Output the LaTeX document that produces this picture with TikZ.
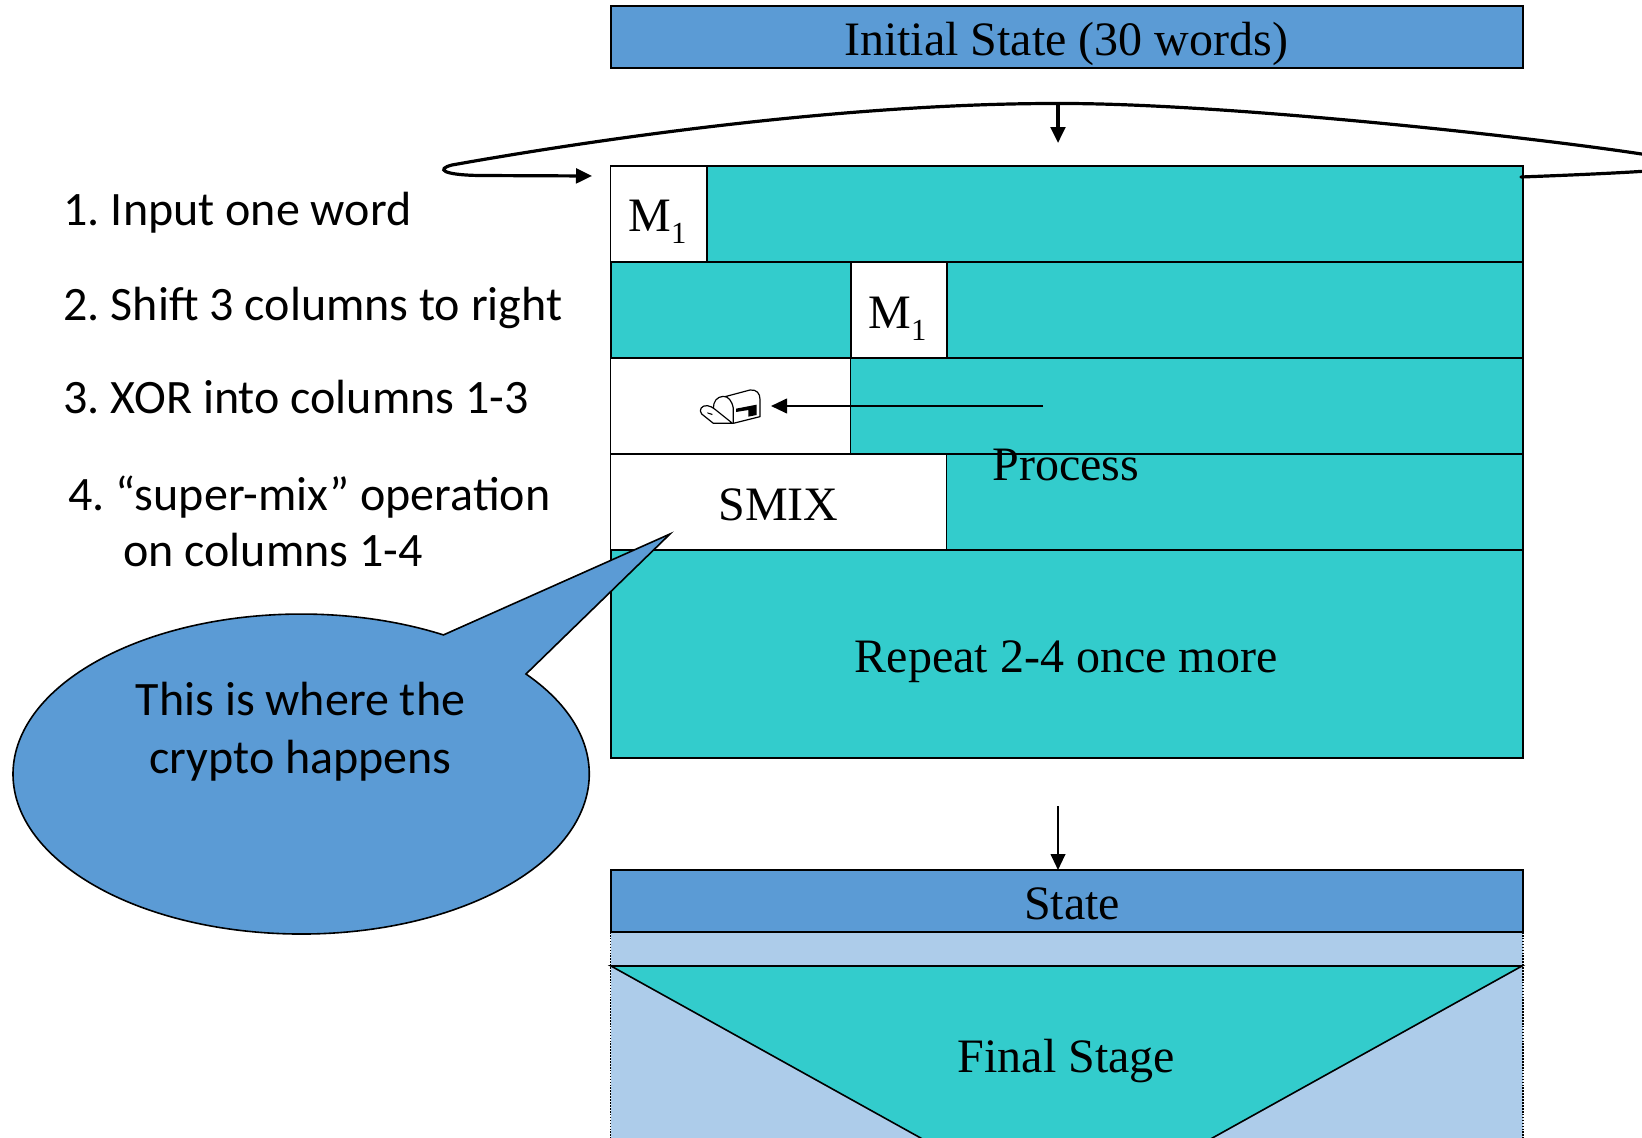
\documentclass[tikz,border=0pt]{standalone}
\usepackage{fontspec}
\setmainfont{Liberation Serif}
\newfontfamily\calib{Carlito}
\usetikzlibrary{arrows.meta}
\definecolor{teal1}{HTML}{33CCCC}
\definecolor{blue1}{HTML}{5B9BD5}
\definecolor{pale1}{HTML}{ADCCEA}
\newcommand{\serifsz}{\fontsize{36}{36}\selectfont}
\newcommand{\sansz}{\calib\fontsize{36}{36}\selectfont}
\newcommand{\Msub}{M{\raisebox{-.26em}{\fontsize{23}{23}\selectfont 1}}}
\newcommand{\numgap}{\hspace{-2.4pt}}
\tikzset{
  x=0.75pt,y=-0.75pt,
  boxline/.style={draw=black,line width=1.2pt,inner sep=0pt,outer sep=0pt},
  tealbox/.style={boxline,fill=teal1},
  whitebox/.style={boxline,fill=white},
  bluebox/.style={boxline,fill=blue1},
  serif/.style={inner sep=0pt,anchor=base,font=\serifsz},
  sans/.style={inner sep=0pt,anchor=base west,font=\sansz},
  sansc/.style={inner sep=0pt,anchor=base,font=\sansz},
  heavy/.style={line width=2.4pt,-{Triangle[length=12pt,width=11pt]}},
  thinarrow/.style={line width=1.5pt,-{Triangle[length=12pt,width=11pt]}}
}
\begin{document}
\begin{tikzpicture}
\useasboundingbox (0,0) rectangle (1642,1138);
\clip (0,0) rectangle (1642,1138);
% main rows
\node[bluebox,minimum width=684.1pt,minimum height=46.5pt] (init) at (1066.8,37) {};
\node[serif] (initt) at (1066,56) {Initial State (30 words)};
\node[tealbox,minimum width=684.1pt,minimum height=72pt] (row1) at (1066.8,214) {};
\node[tealbox,minimum width=684.1pt,minimum height=72pt] (row2) at (1066.8,310) {};
\node[tealbox,minimum width=684.1pt,minimum height=72pt] (row3) at (1066.8,406) {};
\node[tealbox,minimum width=684.1pt,minimum height=72pt] (row4) at (1066.8,502) {};
\node[tealbox,minimum width=684.1pt,minimum height=156pt] (row5) at (1066.8,654) {};
\node[whitebox,minimum width=72.4pt,minimum height=72pt] (m1a) at (658.75,214) {};
\node[whitebox,minimum width=72pt,minimum height=72pt] (m1b) at (898.7,310) {};
\node[whitebox,minimum width=180pt,minimum height=72pt] (hole) at (730.5,406) {};
\node[whitebox,minimum width=252pt,minimum height=72pt] (smix) at (778.5,502) {};
\node[serif] (m1at) at (657.5,231.5) {\Msub};
\node[serif] (m1bt) at (897.5,328.5) {\Msub};
\node[serif] (smixt) at (778.5,520) {SMIX};
\node[serif] (proct) at (1066,480) {Process};
\node[serif] (rept) at (1066,672) {Repeat 2-4 once more};
% mailbox
\begin{scope}[shift={(600,340)},x=0.25pt,y=-0.25pt,line width=0.9pt,line join=round]
\draw[fill=white] (375,170) -- (450,150) .. controls (470,148) and (480,160) .. (480,178) -- (480,230) -- (400,250) -- (400,205) .. controls (395,180) and (385,170) .. (370,169) .. controls (350,170) and (340,185) .. (340,205);
\draw[fill=white] (400,250) -- (340,250) -- (305,222) .. controls (295,210) and (305,195) .. (322,197) .. controls (330,198) and (338,202) .. (345,208) -- (395,248);
\fill (408,206) -- (470,194) -- (470,225) -- (445,230) -- (445,210) -- (408,216) -- cycle;
\fill (322,217) -- (338,222) -- (336,225) -- (322,220) -- cycle;
\end{scope}
\coordinate (mailarrowfrom) at (1043,406);
\coordinate (mailbox) at (771,406);
\draw[thinarrow] (mailarrowfrom) -- (mailbox);
% loop
\coordinate (loopstart) at (1521,177);
\coordinate (looppeak) at (1060,103.5);
\coordinate (loopend) at (592,176);
\coordinate (downtip) at (1058,143);
\draw[line width=2.4pt,line cap=round] (loopstart) .. controls (1600,174) and (1690,170) .. (1695,165) .. controls (1690,155) and (1260,103) .. (looppeak);
\draw[heavy] (looppeak) .. controls (860,103) and (620,135) .. (452,165) .. controls (436,169) and (442,175) .. (480,175.5) -- (loopend);
\draw[heavy] (1058,104) -- (downtip);
% lower section
\node[boxline,draw=none,fill=pale1,minimum width=684.1pt,minimum height=154.5pt] (pale) at (1066.8,1035) {};
\draw[line width=1.2pt,densely dotted] (610.5,932) -- (610.5,1138);
\draw[line width=1.2pt,densely dotted] (1523,932) -- (1523,1138);
\node[bluebox,minimum width=684.1pt,minimum height=46.5pt] (state) at (1066.8,901) {};
\node[serif] (statet) at (1072,919) {State};
\draw[boxline,fill=teal1,line join=miter] (611,966) -- (1522,966) -- (1066.5,1219) -- cycle;
\node[serif] (finalt) at (1066.5,1072) {Final Stage};
\coordinate (belowrows) at (1058,806);
\draw[thinarrow] (belowrows) -- (1058,870);
% list
\node[sans] (l1) at (63,225) {1.\numgap{} Input one word};
\node[sans] (l2) at (63,320) {2.\numgap{} Shift 3 columns to right};
\node[sans] (l3) at (63,413.5) {3.\numgap{} XOR into columns 1-3};
\node[sans] (l4) at (68,510) {4.\numgap{} “super-mix” operation};
\node[sans] (l5) at (123,566.5) {on columns 1-4};
% callout
\draw[draw=black,line width=1.2pt,fill=blue1,line join=miter] (670,534) -- (526,674) arc[start angle=38.7,end angle=-299.6,x radius=216.1pt,y radius=120pt] -- cycle;
\node[sansc] (b1) at (300.5,715.5) {This is where the};
\node[sansc] (b2) at (300.5,773.5) {crypto happens};
\end{tikzpicture}
\end{document}
